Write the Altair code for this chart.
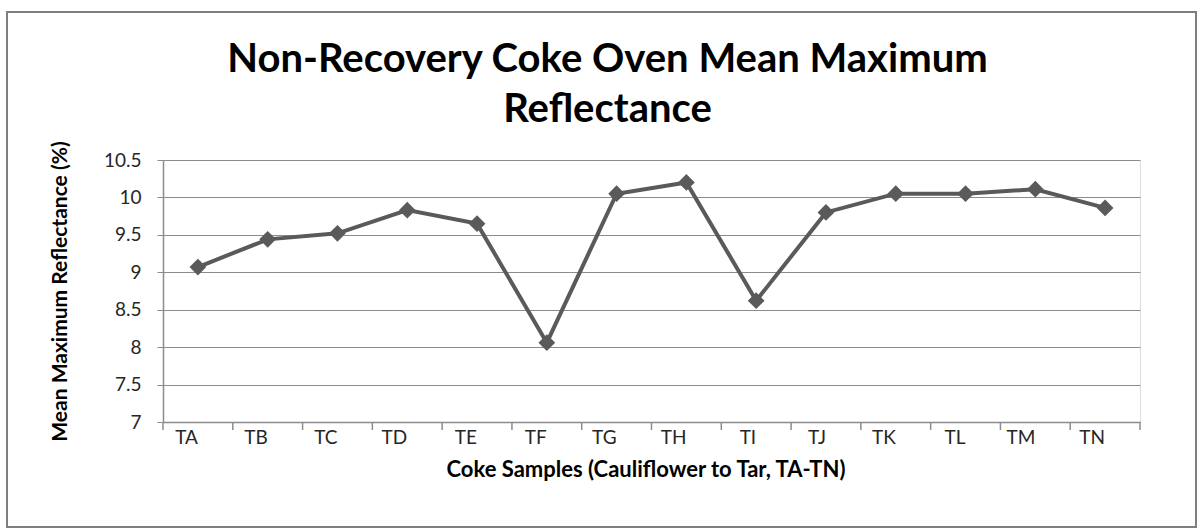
import altair as alt
import pandas as pd

# Coke samples and their mean maximum reflectance (%)
samples = ["TA", "TB", "TC", "TD", "TE", "TF", "TG", "TH", "TI", "TJ", "TK", "TL", "TM", "TN"]
reflectance = [9.07, 9.44, 9.52, 9.83, 9.65, 8.06, 10.05, 10.20, 8.62, 9.80, 10.05, 10.05, 10.11, 9.86]
y_ticks = [7, 7.5, 8, 8.5, 9, 9.5, 10, 10.5]
title_lines = ["Non-Recovery Coke Oven Mean Maximum", "Reflectance"]

df = pd.DataFrame({"sample": samples, "value": reflectance})

W, H = 977, 262
GRID = "#8c8c8c"
LINE = "#5a5a5a"
FONT = "Lato"

x_enc = alt.X(
    "sample:N",
    sort=samples,
    bandPosition=0.5,
    scale=alt.Scale(type="band", paddingInner=0, paddingOuter=0),
    axis=alt.Axis(
        title="Coke Samples (Cauliflower to Tar, TA-TN)",
        titleFont=FONT, titleFontSize=22, titleFontWeight="bold", titleColor="#000000",
        titleY=47, titleX=W / 2 - 6, titleBaseline="middle",
        labelFont=FONT, labelFontSize=19, labelColor="#262626", labelAngle=0,
        labelPadding=15, ticks=False, domainColor=GRID, domainWidth=1.5, grid=False,
    ),
)
y_enc = alt.Y(
    "value:Q",
    scale=alt.Scale(domain=[7, 10.5], nice=False, zero=False),
    axis=alt.Axis(
        title="Mean Maximum Reflectance (%)",
        titleFont=FONT, titleFontSize=21, titleFontWeight="bold", titleColor="#000000",
        titleX=-103, titleY=H / 2, titleAngle=-90, titleAlign="center", titleBaseline="middle",
        values=y_ticks, format="~g",
        labelFont=FONT, labelFontSize=19, labelColor="#262626", labelPadding=16,
        tickSize=6, tickColor=GRID, domainColor=GRID, domainWidth=1.5,
        grid=True, gridColor=GRID, gridWidth=1.2,
    ),
)

base = alt.Chart(df)

line = base.mark_line(color=LINE, strokeWidth=4).encode(x=x_enc, y=y_enc)
points = base.mark_point(shape="diamond", size=280, filled=True, color=LINE, opacity=1).encode(
    x=x_enc, y=y_enc
)

# category tick marks sit on the band boundaries, below the axis line
ticks = base.mark_rule(color=GRID, strokeWidth=1.5).encode(
    x=alt.X("sample:N", sort=samples, bandPosition=0),
    y=alt.value(H),
    y2=alt.value(H + 8),
)
one = pd.DataFrame({"k": [0]})
end_tick = alt.Chart(one).mark_rule(color=GRID, strokeWidth=1.5).encode(
    x=alt.value(W), y=alt.value(H), y2=alt.value(H + 8)
)

# outer frame of the chart
frame = alt.Chart(one).mark_rect(filled=False, stroke="#7f7f7f", strokeWidth=2).encode(
    x=alt.value(-156), x2=alt.value(1033), y=alt.value(-148), y2=alt.value(367)
)

# two-line chart title above the plot
title = alt.Chart(one).mark_text(
    font=FONT, fontSize=40, fontWeight="bold", color="#000000",
    align="center", baseline="alphabetic", lineHeight=50,
).encode(
    x=alt.value(W / 2 - 44), y=alt.value(-88), text=alt.value(title_lines)
)

chart = (
    alt.layer(frame, title, ticks, end_tick, line, points)
    .properties(
        width=W,
        height=H,
        autosize=alt.AutoSizeParams(type="none"),
        padding={"left": 163, "top": 160, "right": 63, "bottom": 110},
    )
    .configure_view(stroke=None)
    .configure(background="#ffffff")
)

chart.save("out.html", embed_options={"renderer": "svg", "actions": False})
